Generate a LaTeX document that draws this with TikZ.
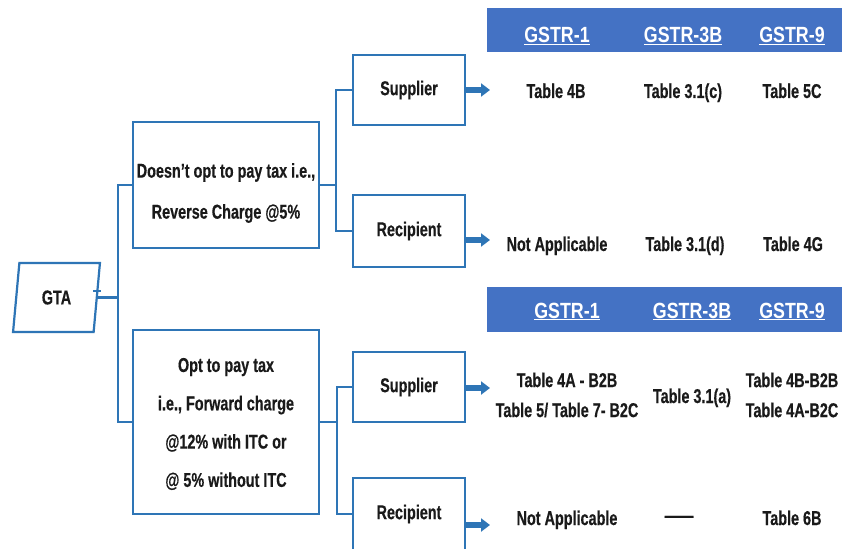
\documentclass[tikz,border=0pt]{standalone}
\usepackage{fontspec}
\setmainfont{Liberation Sans}[FakeStretch=0.72, BoldFeatures={FakeBold=0.4}]
\newfontfamily\hdrfont{Liberation Sans}[FakeStretch=0.81]
\usetikzlibrary{arrows.meta,shapes.geometric}
\definecolor{lineblue}{HTML}{2E75B6}
\definecolor{barblue}{HTML}{4472C4}
\definecolor{ink}{HTML}{1A1A1A}
\tikzset{
 conn/.style={draw=lineblue, line width=2.2pt},
 box/.style={draw=lineblue, line width=2.2pt, fill=white, align=center, inner sep=0pt, text=ink, font=\bfseries\fontsize{20}{24}\selectfont},
 boxtext/.style={text=ink, align=center, inner sep=0pt},
 bar/.style={fill=barblue, draw=none, anchor=north west, inner sep=0pt},
 hdr/.style={text=white, font=\hdrfont\bfseries\fontsize{22}{26}\selectfont, inner sep=0pt, anchor=base},
 cell/.style={text=ink, font=\bfseries\fontsize{20}{30}\selectfont, align=center, inner sep=0pt},
 blockarrow/.style={draw=lineblue, line width=5.5pt, -{Triangle[length=9pt,width=13pt]}},
}
\begin{document}
\begin{tikzpicture}[x=1pt,y=-1pt]
\path[use as bounding box] (0,0) rectangle (842,548);
\clip (0,0) rectangle (842,548);
\fill[white] (0,0) rectangle (842,548);

% GTA
\node[box, shape=trapezium, trapezium left angle=80, trapezium right angle=100, trapezium stretches=true, minimum width=87pt, minimum height=69pt] (gta) at (56.5,297.5) {GTA};
\draw[conn, line width=1.8pt] (93,291) -- (101,291);

% second level
\node[box, minimum width=186pt, minimum height=126pt] (box1) at (226,185) {};
\node[boxtext, font=\bfseries\fontsize{20}{41}\selectfont] (box1t) at (226,193) {Doesn’t opt to pay tax i.e.,\\Reverse Charge @5\%};
\node[box, minimum width=186pt, minimum height=184pt] (box2) at (226,422) {};
\node[boxtext, font=\bfseries\fontsize{20}{38.3}\selectfont] (box2t) at (226,424) {Opt to pay tax\\i.e., Forward charge\\@12\% with ITC or\\@ 5\% without ITC};

% third level
\node[box, minimum width=112pt, minimum height=70pt] (sup1) at (409,90) {Supplier};
\node[box, minimum width=112pt, minimum height=72pt] (rec1) at (409,231) {Recipient};
\node[box, minimum width=112pt, minimum height=70pt] (sup2) at (409,387) {Supplier};
\node[box, minimum width=112pt, minimum height=72pt] (rec2) at (409,514) {Recipient};

% connectors
\draw[conn] (gta.east) -- ++(20,0) coordinate (j1) |- (box1.west);
\draw[conn] (j1) |- (box2.west);
\draw[conn] (box1.east) -- ++(16,0) coordinate (j2) |- (sup1.west);
\draw[conn] (j2) |- (rec1.west);
\draw[conn] (box2.east) -- ++(17,0) coordinate (j3) |- (sup2.west);
\draw[conn] (j3) |- (rec2.west);

% block arrows
\coordinate (a1) at (490,90);
\coordinate (a2) at (490,240);
\coordinate (a3) at (490,388);
\coordinate (a4) at (490,525);
\draw[blockarrow] (sup1.east |- a1) -- (a1);
\draw[blockarrow] (rec1.east |- a2) -- (a2);
\draw[blockarrow] (sup2.east |- a3) -- (a3);
\draw[blockarrow] (rec2.east |- a4) -- (a4);

% header bars
\node[bar, minimum width=360pt, minimum height=44pt] (bar1) at (487,8) {};
\node[bar, minimum width=360pt, minimum height=45pt] (bar2) at (487,287) {};
\node[hdr] (h11) at (557,43) {\underline{GSTR-1}};
\node[hdr] (h12) at (683,43) {\underline{GSTR-3B}};
\node[hdr] (h13) at (792,43) {\underline{GSTR-9}};
\node[hdr] (h21) at (567,318) {\underline{GSTR-1}};
\node[hdr] (h22) at (692,318) {\underline{GSTR-3B}};
\node[hdr] (h23) at (792,318) {\underline{GSTR-9}};

% cells
\node[cell, anchor=base] (c11) at (556,98) {Table 4B};
\node[cell, anchor=base] (c12) at (683,98) {Table 3.1(c)};
\node[cell, anchor=base] (c13) at (792,98) {Table 5C};
\node[cell, anchor=base] (c21) at (557,251) {Not Applicable};
\node[cell, anchor=base] (c22) at (685,251) {Table 3.1(d)};
\node[cell, anchor=base] (c23) at (793,251) {Table 4G};
\node[cell] (c31) at (567,395) {Table 4A - B2B\\Table 5/ Table 7- B2C};
\node[cell, anchor=base] (c32) at (692,403) {Table 3.1(a)};
\node[cell] (c33) at (792,395) {Table 4B-B2B\\Table 4A-B2C};
\node[cell, anchor=base] (c41) at (567,525) {Not Applicable};
\node[cell] (c42) at (679,519) {\scalebox{2}[1]{—}};
\node[cell, anchor=base] (c43) at (792,525) {Table 6B};
\end{tikzpicture}
\end{document}
